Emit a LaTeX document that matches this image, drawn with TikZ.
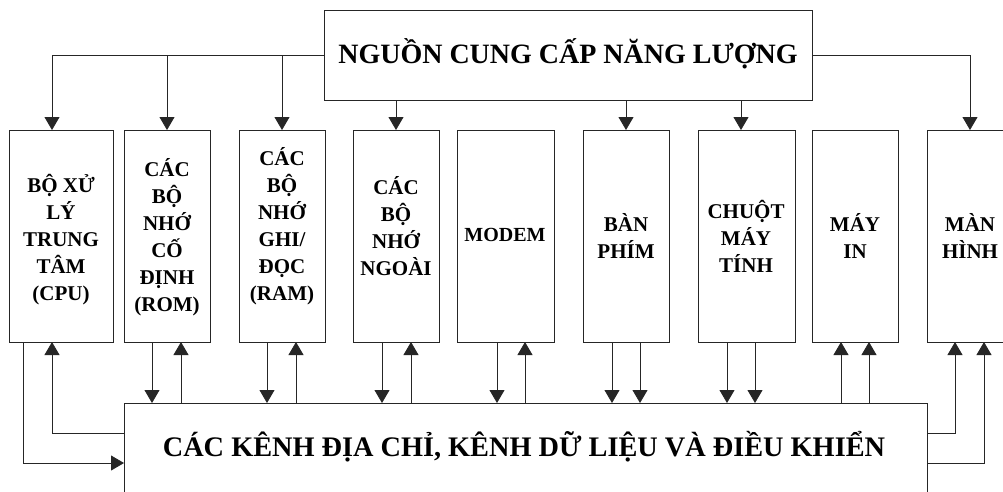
\documentclass[tikz,border=0pt]{standalone}
\usepackage{fontspec}
\setmainfont{Liberation Serif}
\usetikzlibrary{arrows.meta,calc}
\tikzset{
  box/.style={draw=black!85, line width=0.8pt, rectangle, inner sep=0pt, outer sep=0pt, anchor=north west},
  boxtext/.style={align=center, font=\bfseries\fontsize{21}{27}\selectfont, inner sep=0pt},
  bigtext/.style={align=center, font=\bfseries\fontsize{28}{30}\selectfont, inner sep=0pt},
  conn/.style={line width=0.8pt, draw=black!85},
  arr/.style={conn, -{Triangle[width=15pt,length=13pt]}},
}
\begin{document}
\begin{tikzpicture}[x=1pt,y=-1pt]
\useasboundingbox (0,0) rectangle (1003,491);
\clip (0,0) rectangle (1003,491);
\fill[white] (0,0) rectangle (1003,491);
% top box
\node[box, minimum width=488pt, minimum height=90pt] (top) at (324,10) {};
\node[bigtext] (toptext) at (568,54) {NGUỒN CUNG CẤP NĂNG LƯỢNG};
% bus box
\node[box, minimum width=803pt, minimum height=130pt] (bus) at (124,403) {};
\node[bigtext, font=\bfseries\fontsize{28.3}{30}\selectfont] (bustext) at (524,447) {CÁC KÊNH ĐỊA CHỈ, KÊNH DỮ LIỆU VÀ ĐIỀU KHIỂN};
% device boxes
\node[box, minimum width=104pt, minimum height=212pt] (cpu) at (9,130) {};
\node[box, minimum width=86pt, minimum height=212pt] (rom) at (124,130) {};
\node[box, minimum width=86pt, minimum height=212pt] (ram) at (239,130) {};
\node[box, minimum width=86pt, minimum height=212pt] (ext) at (353,130) {};
\node[box, minimum width=97pt, minimum height=212pt] (modem) at (457,130) {};
\node[box, minimum width=86pt, minimum height=212pt] (kbd) at (583,130) {};
\node[box, minimum width=97pt, minimum height=212pt] (mouse) at (698,130) {};
\node[box, minimum width=86pt, minimum height=212pt] (prn) at (812,130) {};
\node[box, minimum width=86pt, minimum height=212pt] (scr) at (927,130) {};
% texts
\node[boxtext] (cput) at (61,240) {BỘ XỬ\\LÝ\\TRUNG\\TÂM\\(CPU)};
\node[boxtext] (romt) at (167,237) {CÁC\\BỘ\\NHỚ\\CỐ\\ĐỊNH\\(ROM)};
\node[boxtext] (ramt) at (282,226) {CÁC\\BỘ\\NHỚ\\GHI/\\ĐỌC\\(RAM)};
\node[boxtext] (extt) at (396,226) {CÁC\\BỘ\\NHỚ\\NGOÀI};
\node[boxtext, font=\bfseries\fontsize{20}{27}\selectfont] (modemt) at (505,235) {MODEM};
\node[boxtext] (kbdt) at (626,236) {BÀN\\PHÍM};
\node[boxtext] (mouset) at (746,236) {CHUỘT\\MÁY\\TÍNH};
\node[boxtext] (prnt) at (855,236) {MÁY\\IN};
\node[boxtext] (scrt) at (970,236) {MÀN\\HÌNH};
% power distribution
\draw[arr] (top.west) -| ([xshift=-9pt]cpu.north);
\draw[arr] (top.west -| rom.north) -- (rom.north);
\draw[arr] (top.west -| ram.north) -- (ram.north);
\draw[arr] (top.east) -| (scr.north);
\draw[arr] (top.south -| ext.north) -- (ext.north);
\draw[arr] (top.south -| kbd.north) -- (kbd.north);
\draw[arr] ([xshift=-5.5pt]top.south -| mouse.north) -- ([xshift=-5.5pt]mouse.north);
% CPU bus links
\draw[arr] ([yshift=-30pt]bus.north west) -| ([xshift=-9pt]cpu.south);
\draw[arr] ([xshift=-38pt]cpu.south) |- ([yshift=-60pt]bus.north west);
% ROM
\draw[arr] ([xshift=-15pt]rom.south) -- ([xshift=-15pt]rom.south |- bus.north);
\draw[arr] ([xshift=14pt]rom.south |- bus.north) -- ([xshift=14pt]rom.south);
% RAM
\draw[arr] ([xshift=-15pt]ram.south) -- ([xshift=-15pt]ram.south |- bus.north);
\draw[arr] ([xshift=14pt]ram.south |- bus.north) -- ([xshift=14pt]ram.south);
% external memory
\draw[arr] ([xshift=-14pt]ext.south) -- ([xshift=-14pt]ext.south |- bus.north);
\draw[arr] ([xshift=15pt]ext.south |- bus.north) -- ([xshift=15pt]ext.south);
% modem
\draw[arr] ([xshift=-8.5pt]modem.south) -- ([xshift=-8.5pt]modem.south |- bus.north);
\draw[arr] ([xshift=19.5pt]modem.south |- bus.north) -- ([xshift=19.5pt]modem.south);
% keyboard
\draw[arr] ([xshift=-14pt]kbd.south) -- ([xshift=-14pt]kbd.south |- bus.north);
\draw[arr] ([xshift=14pt]kbd.south) -- ([xshift=14pt]kbd.south |- bus.north);
% mouse
\draw[arr] ([xshift=-19.5pt]mouse.south) -- ([xshift=-19.5pt]mouse.south |- bus.north);
\draw[arr] ([xshift=8.5pt]mouse.south) -- ([xshift=8.5pt]mouse.south |- bus.north);
% printer
\draw[arr] ([xshift=-14pt]prn.south |- bus.north) -- ([xshift=-14pt]prn.south);
\draw[arr] ([xshift=14pt]prn.south |- bus.north) -- ([xshift=14pt]prn.south);
% screen
\draw[arr] ([yshift=-30pt]bus.north east) -| ([xshift=-15pt]scr.south);
\draw[arr] ([yshift=-60pt]bus.north east) -| ([xshift=14pt]scr.south);
\end{tikzpicture}
\end{document}
